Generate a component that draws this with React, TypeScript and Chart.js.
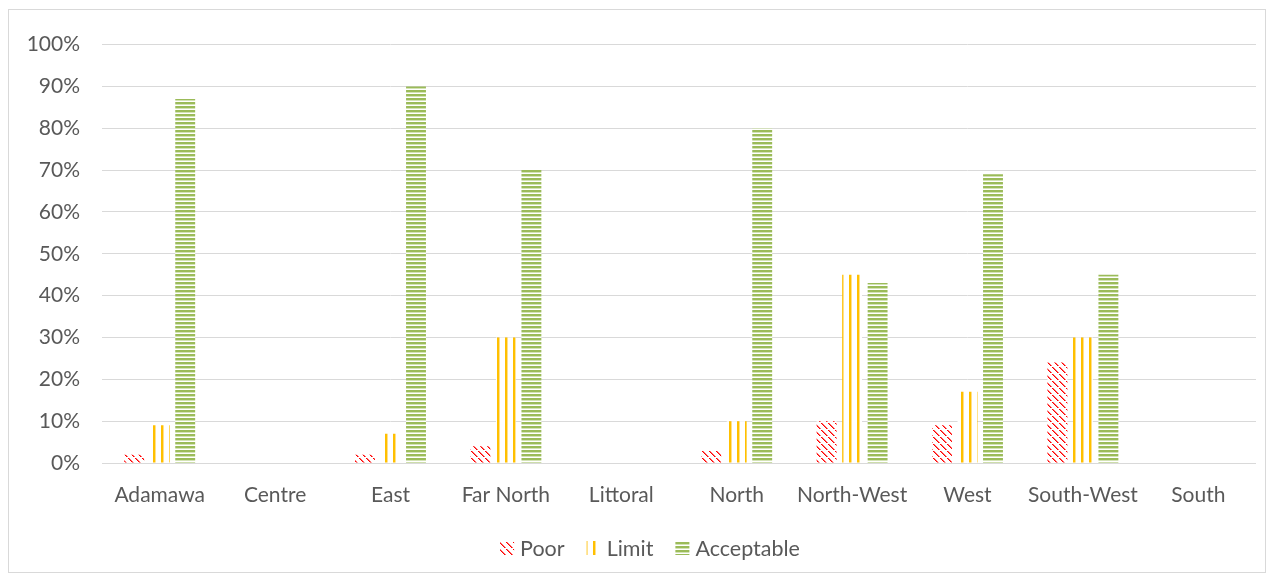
import React, { useEffect, useRef } from "react";
import { Chart, registerables } from "chart.js";

Chart.register(...registerables);

const categories = ["Adamawa", "Centre", "East", "Far North", "Littoral", "North", "North-West", "West", "South-West", "South"];
const poorValues = [2, 0, 2, 4, 0, 3, 10, 9, 24, 0];
const limitValues = [9, 0, 7, 30, 0, 10, 45, 17, 30, 0];
const acceptableValues = [87, 0, 90, 70, 0, 80, 43, 69, 45, 0];
const seriesNames = ["Poor", "Limit", "Acceptable"];

const FONT = "Lato, 'Open Sans', sans-serif";
const TEXT = "#595959";

function makeTile(w: number, h: number, draw: (c: CanvasRenderingContext2D) => void): CanvasPattern | string {
  const cv = document.createElement("canvas");
  cv.width = w;
  cv.height = h;
  const c = cv.getContext("2d");
  if (!c) return "#000";
  draw(c);
  const p = c.createPattern(cv, "repeat");
  return p || "#000";
}

function poorPattern() {
  const n = 7;
  return makeTile(n, n, (c) => {
    c.fillStyle = "#ffffff";
    c.fillRect(0, 0, n, n);
    for (let i = 0; i < n; i++) {
      if (i === n - 1) continue;
      c.fillStyle = "#ff0000";
      c.fillRect(i, i, 1, 1);
      c.fillStyle = "#ff7070";
      c.fillRect((i + 1) % n, i, 1, 1);
    }
  });
}

function limitPattern() {
  return makeTile(8, 4, (c) => {
    c.fillStyle = "#ffffff";
    c.fillRect(0, 0, 8, 4);
    c.fillStyle = "#ffc000";
    c.fillRect(0, 0, 2, 4);
    c.fillStyle = "#ffe08a";
    c.fillRect(2, 0, 1, 4);
  });
}

function acceptablePattern() {
  return makeTile(4, 4, (c) => {
    c.fillStyle = "#ffffff";
    c.fillRect(0, 0, 4, 4);
    c.fillStyle = "#9bbb59";
    c.fillRect(0, 0, 4, 2);
    c.fillStyle = "#d3e3b4";
    c.fillRect(0, 2, 4, 1);
  });
}

const bottomLegend = {
  id: "bottomLegend",
  afterDraw(chart: any) {
    const ctx = chart.ctx as CanvasRenderingContext2D;
    const ds = chart.data.datasets;
    ctx.save();
    ctx.font = `21.5px ${FONT}`;
    ctx.textBaseline = "middle";
    ctx.textAlign = "left";
    const sw = 14;
    const gapText = 6;
    const gapItem = 22;
    const widths = ds.map((d: any) => ctx.measureText(d.label).width);
    let total = 0;
    widths.forEach((w: number, i: number) => {
      total += sw + gapText + w + (i < widths.length - 1 ? gapItem : 0);
    });
    const cy = 538;
    let x = 641 - total / 2;
    ds.forEach((d: any, i: number) => {
      ctx.fillStyle = d.backgroundColor;
      ctx.fillRect(x, cy - 7, sw, 14);
      x += sw + gapText;
      ctx.fillStyle = TEXT;
      ctx.fillText(d.label, x, cy + 1);
      x += widths[i] + gapItem;
    });
    ctx.restore();
  },
};

export default function App() {
  const ref = useRef<HTMLCanvasElement | null>(null);

  useEffect(() => {
    if (!ref.current) return;
    const patterns = [poorPattern(), limitPattern(), acceptablePattern()];
    const values = [poorValues, limitValues, acceptableValues];
    const chart = new Chart(ref.current, {
      type: "bar",
      data: {
        labels: categories,
        datasets: seriesNames.map((name, i) => ({
          label: name,
          data: values[i],
          backgroundColor: patterns[i] as any,
          borderColor: "rgba(0,0,0,0)",
          borderWidth: 0,
          categoryPercentage: 0.663,
          barPercentage: 0.78,
        })),
      },
      options: {
        animation: false,
        responsive: true,
        maintainAspectRatio: false,
        layout: { padding: { top: 30, right: 9, bottom: 44, left: 0 } },
        plugins: {
          tooltip: { enabled: false },
          legend: { display: false },
        },
        scales: {
          x: {
            grid: { display: false, drawTicks: false },
            border: { display: false },
            ticks: { color: TEXT, font: { family: FONT, size: 21 }, padding: 20, maxRotation: 0, autoSkip: false },
            afterFit: (s: any) => { s.height = 65; },
          },
          y: {
            min: 0,
            max: 100,
            grid: { color: "#d9d9d9", lineWidth: 1, drawTicks: false },
            border: { display: false },
            ticks: {
              stepSize: 10,
              color: TEXT,
              font: { family: FONT, size: 21 },
              padding: 22,
              callback: (v: any) => v + "%",
            },
            afterFit: (s: any) => { s.width = 93; },
          },
        },
      },
      plugins: [bottomLegend],
    });
    return () => chart.destroy();
  }, []);

  return (
    <div
      style={{
        width: 1258,
        height: 564,
        marginTop: 1,
        border: "1px solid #d9d9d9",
        boxSizing: "border-box",
        position: "relative",
        background: "#fff",
      }}
    >
      <canvas ref={ref} />
    </div>
  );
}
